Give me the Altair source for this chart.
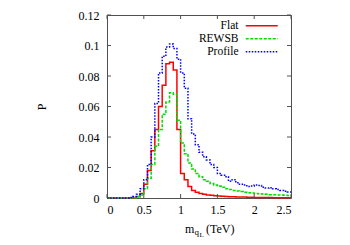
import altair as alt
import pandas as pd

# ---- data ----
bins = [0.00, 0.05, 0.10, 0.15, 0.20, 0.25, 0.30, 0.35, 0.40, 0.45,
        0.50, 0.55, 0.60, 0.65, 0.70, 0.75, 0.80, 0.85, 0.90, 0.95,
        1.00, 1.05, 1.10, 1.15, 1.20, 1.25, 1.30, 1.35, 1.40, 1.45,
        1.50, 1.55, 1.60, 1.65, 1.70, 1.75, 1.80, 1.85, 1.90, 1.95,
        2.00, 2.05, 2.10, 2.15, 2.20, 2.25, 2.30, 2.35, 2.40, 2.45]
x_end = 2.5

flat = [0, 0, 0, 0, 0, 0, 0, 0.0003, 0.001, 0.003,
        0.009, 0.018, 0.031, 0.045, 0.060, 0.074, 0.088, 0.089, 0.084, 0.045,
        0.016, 0.012, 0.0075, 0.005, 0.0038, 0.003, 0.0025, 0.002, 0.0018, 0.0015,
        0.0013, 0.0011, 0.001, 0.0009, 0.0008, 0.0007, 0.0006, 0.0006, 0.0005, 0.0005,
        0.0004, 0.0004, 0.0003, 0.0003, 0.0003, 0.0002, 0.0002, 0.0002, 0.0002, 0.0001]

rewsb = [0, 0, 0, 0, 0, 0, 0, 0.0002, 0.0008, 0.002,
         0.006, 0.013, 0.022, 0.034, 0.045, 0.055, 0.063, 0.069, 0.068, 0.051,
         0.036, 0.029, 0.023, 0.019, 0.016, 0.014, 0.012, 0.011, 0.0095, 0.0085,
         0.0078, 0.007, 0.006, 0.0055, 0.005, 0.0046, 0.0042, 0.0038, 0.0035, 0.0032,
         0.003, 0.0028, 0.0026, 0.0024, 0.0022, 0.0021, 0.002, 0.0019, 0.0018, 0.0017]

profile = [0, 0, 0, 0, 0, 0, 0.0004, 0.001, 0.0025, 0.006,
           0.012, 0.022, 0.040, 0.062, 0.082, 0.093, 0.099, 0.101, 0.098, 0.091,
           0.082, 0.072, 0.052, 0.042, 0.035, 0.030, 0.027, 0.025, 0.022, 0.020,
           0.016, 0.015, 0.014, 0.011, 0.012, 0.010, 0.009, 0.0085, 0.0075, 0.0078,
           0.0085, 0.0082, 0.007, 0.0065, 0.0068, 0.006, 0.0055, 0.005, 0.0045, 0.004]

series = ["Flat", "REWSB", "Profile"]
colors = ["#ff0000", "#00dd00", "#0000ff"]
dashes = [[1, 0], [3, 1.5], [1.5, 1.5]]

x_ticks = [0, 0.5, 1, 1.5, 2, 2.5]
y_ticks = [0, 0.02, 0.04, 0.06, 0.08, 0.1, 0.12]
title_parts = ["m", "q", "L", "(TeV)"]

# ---- tables ----
rows = []
for name, vals in zip(series, [flat, rewsb, profile]):
    for b, v in zip(bins, vals):
        rows.append({"s": name, "x": b, "p": v})
    rows.append({"s": name, "x": x_end, "p": vals[-1]})
df = pd.DataFrame(rows)
xt = pd.DataFrame({"t": x_ticks})
yt = pd.DataFrame({"t": y_ticks})

W, H = 184, 183
TL = 4
FONT = "Liberation Serif"
BORDER = "#505050"

xs = alt.Scale(domain=[0, 2.5], nice=False, zero=False)
ys = alt.Scale(domain=[0, 0.12], nice=False, zero=False)
x_axis = alt.Axis(values=x_ticks, format=".1~f", title=None, labelPadding=6)
y_axis = alt.Axis(values=y_ticks, format=".2~f", title="P", labelPadding=8, titlePadding=30)

leg = alt.Legend(title=None, orient="none", legendX=149, legendY=5,
                 symbolType="M-4,0H4", symbolSize=64, symbolStrokeWidth=1.5,
                 labelAlign="right", labelOffset={"expr": "-29"}, labelFont=FONT,
                 labelFontSize=11.5, labelColor="black", rowPadding=0,
                 padding=0, labelLimit=0)

lines = alt.Chart(df).mark_line(interpolate="step-after", strokeWidth=1.5).encode(
    x=alt.X("x:Q", scale=xs, axis=x_axis),
    y=alt.Y("p:Q", scale=ys, axis=y_axis),
    color=alt.Color("s:N", scale=alt.Scale(domain=series, range=colors), legend=leg),
    strokeDash=alt.StrokeDash("s:N", scale=alt.Scale(domain=series, range=dashes), legend=leg),
)

tick_style = dict(color=BORDER, strokeWidth=1)
bottom = alt.Chart(xt).mark_rule(**tick_style).encode(
    x=alt.X("t:Q", scale=xs, axis=x_axis), y=alt.value(H), y2=alt.value(H - TL))
top = alt.Chart(xt).mark_rule(**tick_style).encode(
    x=alt.X("t:Q", scale=xs, axis=x_axis), y=alt.value(0), y2=alt.value(TL))
left = alt.Chart(yt).mark_rule(**tick_style).encode(
    y=alt.Y("t:Q", scale=ys, axis=y_axis), x=alt.value(0), x2=alt.value(TL))
right = alt.Chart(yt).mark_rule(**tick_style).encode(
    y=alt.Y("t:Q", scale=ys, axis=y_axis), x=alt.value(W), x2=alt.value(W - TL))

tdf = pd.DataFrame({"t": title_parts})
t_m = alt.Chart(tdf.iloc[[0]]).mark_text(font=FONT, fontSize=12, align="left",
                                         baseline="alphabetic", color="black").encode(
    text="t:N", x=alt.value(78), y=alt.value(218))
t_q = alt.Chart(tdf.iloc[[1]]).mark_text(font=FONT, fontSize=9, align="left",
                                         baseline="alphabetic", color="black").encode(
    text="t:N", x=alt.value(87.5), y=alt.value(220))
t_l = alt.Chart(tdf.iloc[[2]]).mark_text(font=FONT, fontSize=7, align="left",
                                         baseline="alphabetic", color="black").encode(
    text="t:N", x=alt.value(92.5), y=alt.value(222))
t_tev = alt.Chart(tdf.iloc[[3]]).mark_text(font=FONT, fontSize=12, align="left",
                                           baseline="alphabetic", color="black").encode(
    text="t:N", x=alt.value(99), y=alt.value(218))

chart = alt.layer(lines, bottom, top, left, right, t_m, t_q, t_l, t_tev).properties(
    width=W, height=H,
    autosize=alt.AutoSizeParams(type="none"),
    padding={"left": 99, "top": 7, "right": 50, "bottom": 40},
).configure_view(stroke=BORDER, strokeWidth=1).configure_axis(
    labelFont=FONT, labelFontSize=12, labelColor="black",
    titleFont=FONT, titleFontSize=12, titleFontWeight="normal", titleColor="black",
    domain=False, grid=False, ticks=False,
)

chart.save("out.html", embed_options={"renderer": "svg", "actions": False})
